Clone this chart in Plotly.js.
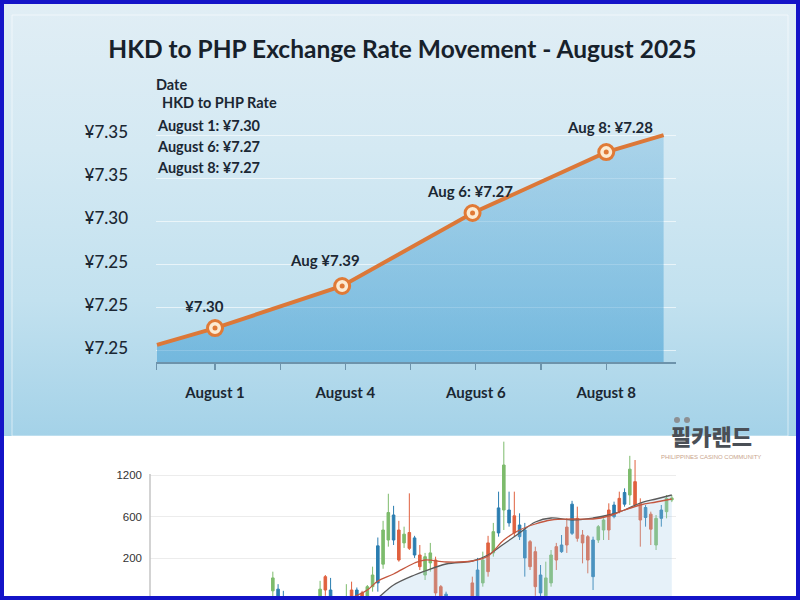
<!DOCTYPE html>
<html>
<head>
<meta charset="utf-8">
<script src="https://cdn.plot.ly/plotly-3.0.1.min.js"></script>
<style>
  html, body { margin: 0; padding: 0; background: #ffffff; }
  #frame {
    position: relative; width: 800px; height: 600px;
    background: linear-gradient(to bottom, #e1eef5 0%, #d4e9f3 25%, #c2e1ef 50%, #a4d2e8 72.6%, #ffffff 72.6%);
  }
  #chart { width: 800px; height: 600px; }
</style>
</head>
<body>
<div id="frame"><div id="chart"></div></div>
<script>
// ---- HKD → PHP rate line (upper panel) ----
const rateX = [0.11, 1, 2.95, 4.95, 7, 7.88];
const rateY = [7.2028, 7.2106, 7.2301, 7.2639, 7.2921, 7.3000];
const rateLabels = ['¥7.30', 'Aug ¥7.39', 'Aug 6: ¥7.27', 'Aug 8: ¥7.28'];
const dateTicks = [1, 3, 5, 7];
const dateLabels = ['August 1', 'August 4', 'August 6', 'August 8'];
const dateMinorTicks = [0.1, 2, 4, 6];
const rateTicks = [7.20, 7.22, 7.24, 7.26, 7.28, 7.30];
const rateTickLabels = ['¥7.25', '¥7.25', '¥7.25', '¥7.30', '¥7.35', '¥7.35'];
const noteLines = ['Date', 'HKD to PHP Rate', 'August 1: ¥7.30', 'August 6: ¥7.27', 'August 8: ¥7.27'];

// ---- price candles (lower panel) ----
const candleT     = [0,1,2,9,10,11,14,15,16,17,18,19,20,21,22,23,24,25,26,27,28,29,30,31,32,33,38,39,40,41,42,43,44,45,46,47,48,49,50,51,52,53,54,55,56,57,58,59,60,61,62,63,64,65,66,67,68,69,70,71,72,73,74,75,76];
const candleColor = ['g','b','b','g','r','b','g','r','b','r','g','g','b','g','g','b','r','g','r','b','r','g','g','r','r','b','r','b','g','r','g','b','g','b','r','b','b','r','r','b','g','g','r','b','r','b','r','r','r','b','g','g','r','b','r','b','g','r','r','b','r','g','b','g','g'];
const candleOpen  = [0.22,0.26,0.0,-0.1,0.56,0.24,-0.1,0.24,0.24,0.17,0.0,0.32,1.3,0.86,1.44,2.04,1.68,1.37,1.62,1.49,1.08,0.6,0.89,0.96,0.32,0.14,0.41,0.72,0.41,1.37,1.13,2.21,2.16,2.16,2.02,1.8,1.68,1.4,1.16,0.6,0.1,0.41,1.28,1.32,1.75,2.3,1.96,1.56,1.52,1.44,1.44,1.68,2.16,2.28,2.44,2.58,2.52,2.84,2.32,2.22,2.06,1.32,2.16,2.12,2.4];
const candleHigh  = [0.68,0.38,0.22,0.46,0.6,0.53,0.38,0.44,0.3,0.22,0.36,0.8,1.5,1.9,2.55,2.26,1.9,1.76,2.56,1.54,1.32,1.13,1.37,1.04,0.36,0.2,0.56,1.01,1.16,1.54,1.85,2.6,3.8,2.6,2.6,2.08,1.85,1.44,1.28,0.84,0.92,1.2,1.37,1.56,1.96,2.38,2.24,1.68,1.56,1.52,1.8,1.96,2.32,2.36,2.6,2.68,3.46,3.36,2.44,2.28,2.12,2.04,2.28,2.52,2.52];
const candleLow   = [0.05,-0.2,-0.3,-0.2,0.1,-0.2,-0.2,-0.2,-0.2,-0.2,-0.1,0.2,0.2,0.75,1.28,1.32,0.92,1.25,1.2,1.01,0.72,0.48,0.68,0.1,-0.1,-0.2,-0.1,-0.1,0.32,0.56,1.04,1.52,1.68,1.76,1.52,1.44,0.56,0.72,0.1,0.05,0.0,0.32,0.72,1.13,1.13,1.56,1.4,0.88,0.64,0.24,1.37,1.44,1.44,1.96,2.08,2.24,2.28,2.24,1.28,1.76,1.32,1.2,1.76,1.96,2.35];
const candleClose = [0.53,-0.1,-0.2,0.26,0.24,-0.1,0.0,-0.1,-0.1,-0.1,0.32,0.6,0.41,1.68,2.1,1.44,0.96,1.58,1.24,1.08,0.80,1.04,1.13,0.17,0.0,-0.1,0.0,0.05,0.96,0.68,1.64,1.61,3.24,1.85,1.61,1.52,1.01,0.8,0.32,0.17,0.53,1.08,0.96,1.16,1.32,1.6,1.48,1.37,0.96,0.56,1.76,1.92,1.68,2.0,2.12,2.3,3.14,2.28,1.92,1.98,1.7,1.96,1.96,2.44,2.45];
const priceTicks = [0, 1, 2, 3];
const priceTickLabels = ['100', '200', '600', '1200'];

// moving averages over the candles
const maT    = [14,18,20,23,27,29,33,38,41,44,47,50,53,57,61,64,67,70,73,76];
const maFast = [0.0,0.24,0.456,0.624,0.888,0.96,0.912,0.936,1.056,1.44,1.68,1.824,1.92,1.944,1.944,2.016,2.16,2.28,2.352,2.424];
const maSlow = [-0.3,-0.12,0.048,0.36,0.6,0.696,0.864,0.936,1.08,1.344,1.608,1.872,1.968,1.92,1.968,2.04,2.16,2.328,2.424,2.52];

const groupColors = { g: '#7dbb6c', r: '#e0613f', b: '#2a7db0' };

// pixel helpers for paper-positioned decorations
const W = 800, H = 600;
const px = v => v / W;
const py = v => 1 - v / H;

const traces = [
  {
    x: rateX, y: rateY, type: 'scatter', mode: 'lines',
    xaxis: 'x', yaxis: 'y',
    line: { color: '#dc7838', width: 4 },
    fill: 'tozeroy',
    fillgradient: {
      type: 'vertical', start: 7.195, stop: 7.30,
      colorscale: [[0, 'rgba(50,150,208,0.50)'], [1, 'rgba(70,160,212,0.30)']]
    },
    hoverinfo: 'skip'
  },
  {
    x: rateX.slice(1, 5), y: rateY.slice(1, 5), type: 'scatter', mode: 'markers',
    xaxis: 'x', yaxis: 'y',
    marker: { size: 15, color: '#fcebd2', line: { color: '#e07a36', width: 3 } },
    hoverinfo: 'skip'
  },
  {
    x: rateX.slice(1, 5), y: rateY.slice(1, 5), type: 'scatter', mode: 'markers',
    xaxis: 'x', yaxis: 'y',
    marker: { size: 5, color: '#e07a36' },
    hoverinfo: 'skip'
  },
  {
    x: maT, y: maSlow, type: 'scatter', mode: 'lines',
    xaxis: 'x2', yaxis: 'y2',
    line: { color: '#5a5a5a', width: 1.3, shape: 'spline' },
    fill: 'tozeroy', fillcolor: 'rgba(165,205,232,0.28)',
    hoverinfo: 'skip'
  },
  {
    x: maT, y: maFast, type: 'scatter', mode: 'lines',
    xaxis: 'x2', yaxis: 'y2',
    line: { color: '#c4573f', width: 1.3, shape: 'spline' },
    hoverinfo: 'skip'
  }
];

['g', 'r', 'b'].forEach(k => {
  const idx = candleT.map((_, i) => i).filter(i => candleColor[i] === k);
  const c = groupColors[k];
  traces.push({
    type: 'candlestick', xaxis: 'x2', yaxis: 'y2',
    x: idx.map(i => candleT[i]),
    open: idx.map(i => candleOpen[i]),
    high: idx.map(i => candleHigh[i]),
    low: idx.map(i => candleLow[i]),
    close: idx.map(i => candleClose[i]),
    increasing: { line: { color: c, width: 1 }, fillcolor: c },
    decreasing: { line: { color: c, width: 1 }, fillcolor: c },
    whiskerwidth: 0,
    showlegend: false, hoverinfo: 'skip'
  });
});

const labelFamily = 'Lato, "Open Sans", sans-serif';

const annotations = [];
// point labels above each marker
const labelShift = [[-11, 22], [-17, 26], [-3, 22], [4, 25]];
rateLabels.forEach((t, i) => {
  annotations.push({
    x: rateX[i + 1], y: rateY[i + 1], xref: 'x', yref: 'y', text: t, showarrow: false,
    xshift: labelShift[i][0], yshift: labelShift[i][1],
    font: { family: labelFamily, size: 15, color: '#1b2733', weight: 700 }
  });
});
// note block at the upper left
const noteX = [154, 160, 155, 155, 155];
const noteY = [85, 102, 125, 146, 167];
noteLines.forEach((t, i) => {
  annotations.push({
    x: px(noteX[i]), y: py(noteY[i]), xref: 'paper', yref: 'paper', text: t,
    showarrow: false, xanchor: 'left', yanchor: 'middle',
    font: { family: labelFamily, size: 14.5, color: '#1b2733', weight: 700 }
  });
});
// community badge
annotations.push({
  x: px(711), y: py(435), xref: 'paper', yref: 'paper', text: '필카랜드', showarrow: false,
  xanchor: 'center', yanchor: 'middle',
  font: { family: '"Noto Sans CJK KR", sans-serif', size: 22, color: '#4a4f56', weight: 900 }
});
annotations.push({
  x: px(711), y: py(457), xref: 'paper', yref: 'paper', text: 'PHILIPPINES CASINO COMMUNITY', showarrow: false,
  xanchor: 'center', yanchor: 'middle',
  font: { family: '"Liberation Sans", sans-serif', size: 6, color: '#c9a58c' }
});

const shapes = [
  // white lower panel
  { type: 'rect', xref: 'paper', yref: 'paper', x0: 0, x1: 1, y0: 0, y1: py(436),
    fillcolor: '#ffffff', line: { width: 0 }, layer: 'below' },
  // faint inner frame of the upper panel
  { type: 'rect', xref: 'paper', yref: 'paper', x0: px(12), x1: px(788), y0: py(436), y1: py(15),
    fillcolor: 'rgba(0,0,0,0)', line: { color: 'rgba(255,255,255,0.55)', width: 1 }, layer: 'below' },
  // price axis spine
  { type: 'line', xref: 'paper', yref: 'paper', x0: px(150), x1: px(150), y0: 0, y1: py(474),
    line: { color: '#c4c4c4', width: 1.5 }, layer: 'above' },
  // badge dots
  { type: 'circle', xref: 'paper', yref: 'paper', x0: px(674), x1: px(680), y0: py(417), y1: py(423),
    fillcolor: '#8d8f92', line: { width: 0 }, layer: 'above' },
  { type: 'circle', xref: 'paper', yref: 'paper', x0: px(684), x1: px(690), y0: py(417), y1: py(423),
    fillcolor: '#8d8f92', line: { width: 0 }, layer: 'above' },
  // blue outer border
  { type: 'rect', xref: 'paper', yref: 'paper', x0: 0, x1: 1, y0: py(4), y1: 1, fillcolor: '#1414c8', line: { width: 0 }, layer: 'above' },
  { type: 'rect', xref: 'paper', yref: 'paper', x0: 0, x1: 1, y0: 0, y1: py(596), fillcolor: '#1414c8', line: { width: 0 }, layer: 'above' },
  { type: 'rect', xref: 'paper', yref: 'paper', x0: 0, x1: px(4), y0: 0, y1: 1, fillcolor: '#1414c8', line: { width: 0 }, layer: 'above' },
  { type: 'rect', xref: 'paper', yref: 'paper', x0: px(796), x1: 1, y0: 0, y1: 1, fillcolor: '#1414c8', line: { width: 0 }, layer: 'above' }
];

const layout = {
  width: W, height: H,
  margin: { l: 0, r: 0, t: 0, b: 0 },
  paper_bgcolor: 'rgba(0,0,0,0)',
  plot_bgcolor: 'rgba(0,0,0,0)',
  showlegend: false,
  title: {
    text: 'HKD to PHP Exchange Rate Movement - August 2025',
    x: 0.503, xanchor: 'center', xref: 'paper',
    y: py(49), yanchor: 'middle', yref: 'container',
    font: { family: labelFamily, size: 24.5, color: '#17212b', weight: 700 }
  },
  xaxis: {
    domain: [px(156), px(676)], range: [0.095, 8.07],
    tickmode: 'array', tickvals: dateTicks, ticktext: dateLabels,
    ticks: 'outside', ticklen: 6, tickwidth: 1.2, tickcolor: '#6d93ab',
    showline: true, linecolor: '#6d93ab', linewidth: 1.5,
    showgrid: false, zeroline: false, fixedrange: true,
    ticklabelstandoff: 10,
    tickfont: { family: labelFamily, size: 15, color: '#1b2733', weight: 700 },
    minor: { tickmode: 'array', tickvals: dateMinorTicks, ticks: 'outside', ticklen: 6, tickwidth: 1.2, tickcolor: '#6d93ab', showgrid: false }
  },
  yaxis: {
    domain: [py(362), py(118)], range: [7.1949, 7.3079],
    tickmode: 'array', tickvals: rateTicks, ticktext: rateTickLabels,
    ticks: '', showline: false, zeroline: false, fixedrange: true,
    showgrid: true, gridcolor: 'rgba(255,255,255,0.6)', gridwidth: 1,
    ticklabelstandoff: 27, ticklabelshift: -3,
    tickfont: { family: labelFamily, size: 17, color: '#1b2733', weight: 500 }
  },
  xaxis2: {
    domain: [px(150), px(676)], range: [-23.4, 76.8],
    anchor: 'y2', showgrid: false, zeroline: false, showline: false,
    showticklabels: false, ticks: '', fixedrange: true, rangeslider: { visible: false }
  },
  yaxis2: {
    domain: [0, py(438)], range: [0, 3.888], anchor: 'x2',
    tickmode: 'array', tickvals: priceTicks, ticktext: priceTickLabels,
    showgrid: true, gridcolor: '#ececec', gridwidth: 1,
    zeroline: false, showline: false, ticks: '', fixedrange: true,
    ticklabelstandoff: 7,
    tickfont: { family: '"Liberation Sans", Arial, sans-serif', size: 11.5, color: '#333333' }
  },
  annotations: annotations,
  shapes: shapes
};

Plotly.newPlot('chart', traces, layout, { staticPlot: true, displayModeBar: false });
</script>
</body>
</html>
